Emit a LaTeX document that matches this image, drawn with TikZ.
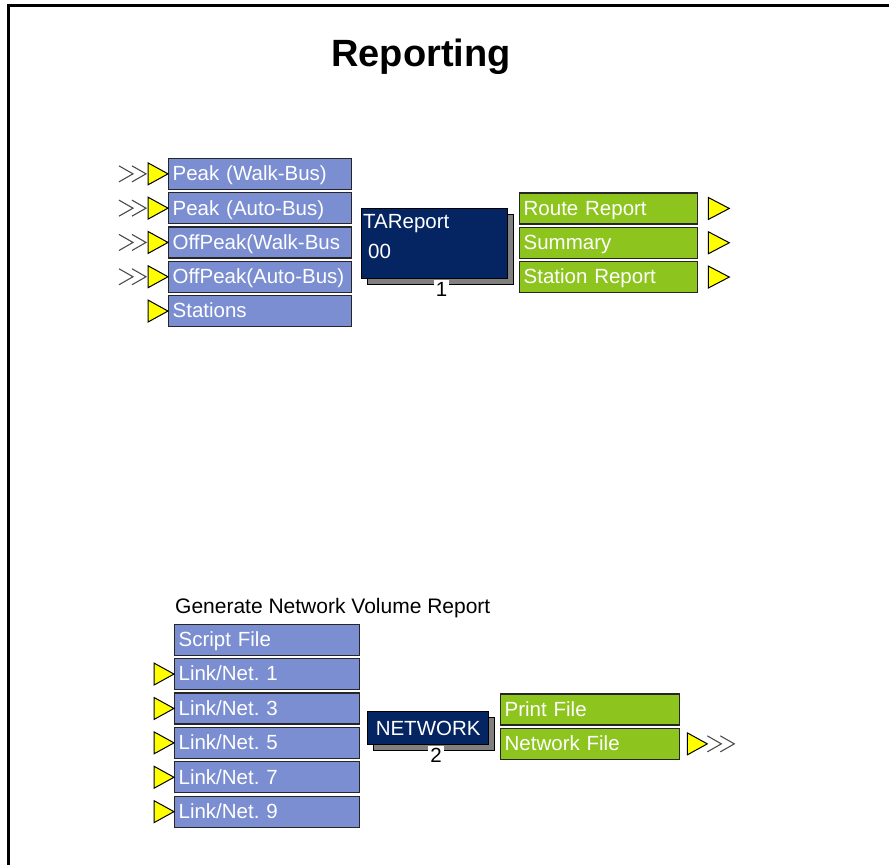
\documentclass[tikz,border=0pt]{standalone}
\usepackage{fontspec}
\setmainfont{Liberation Sans}
\usetikzlibrary{calc,shadows}
\frenchspacing

\definecolor{portblue}{RGB}{122,142,209}
\definecolor{portgreen}{RGB}{141,196,30}
\definecolor{modnavy}{RGB}{4,36,98}
\definecolor{shadegray}{RGB}{128,128,128}
\definecolor{portyellow}{RGB}{255,255,0}

\newcommand\portfont{\fontsize{20.5}{21}\selectfont}
\newcommand\capfont{\fontsize{21}{21}\selectfont}
\newcommand\titlefont{\bfseries\fontsize{38}{38}\selectfont}

\tikzset{
  port/.style={draw=black!85, line width=1.3pt, text=white, font=\portfont,
    anchor=north west, text width=#1, align=left, inner xsep=4pt,
    inner ysep=0pt, minimum height=31pt, text depth=1pt},
  inport/.style={port=#1, fill=portblue},
  outport/.style={port=#1, fill=portgreen},
  module/.style={draw=black, line width=1.3pt, fill=modnavy, text=white,
    font=\portfont, anchor=north west, inner sep=0pt,
    general shadow={shadow xshift=6pt, shadow yshift=-6pt,
      fill=shadegray, draw=black, line width=1pt}},
  modtext/.style={text=white, font=\portfont, inner sep=0pt, anchor=base west},
  num/.style={fill=white, text=black, font=\portfont, inner xsep=2pt,
    inner ysep=3pt, anchor=north},
  tri/.style={draw=black, line width=1pt, fill=portyellow, line join=miter},
  chev/.style={draw=black!70, line width=1.1pt},
}

\begin{document}
\begin{tikzpicture}[x=1pt, y=-1pt]
  \useasboundingbox (0,0) rectangle (889,865);
  \fill[white] (0,0) rectangle (889,865);

  % frame
  \draw[line width=3pt] (889,5) -- (8,5) -- (8,865);

  % title
  \node[font=\titlefont, anchor=base, inner sep=0pt] (title) at (421,66) {Reporting};

  % ---------- TAReport module ----------
  \node[inport=175pt] (pw) at (168,157.7) {\mbox{Peak (Walk-Bus)}};
  \node[inport=175pt] (pa) at (168,192.0) {\mbox{Peak (Auto-Bus)}};
  \node[inport=175pt] (ow) at (168,226.3) {\mbox{OffPeak(Walk-Bus}};
  \node[inport=175pt] (oa) at (168,260.6) {\mbox{OffPeak(Auto-Bus)}};
  \node[inport=175pt] (st) at (168,294.9) {\mbox{Stations}};

  \foreach \p in {pw,pa,ow,oa,st}
    \draw[tri] (\p.west) -- ++(-20,-11) -- ++(0,22) -- cycle;
  \foreach \p in {pw,pa,ow,oa} {
    \draw[chev] ($(\p.west)+(-49,-8)$) -- ++(14,8) -- ++(-14,8);
    \draw[chev] ($(\p.west)+(-36,-8)$) -- ++(14,8) -- ++(-14,8);
  }

  \node[module, minimum width=146pt, minimum height=70pt] (tar) at (361,208) {};
  \node[modtext] (tarname) at ($(tar.north west)+(2,20)$) {TAReport};
  \node[modtext] (tarid) at ($(tar.north west)+(7,50)$) {00};
  \node[num] (tarnum) at ($(tar.south)+(7,0)$) {1};

  \node[outport=170pt] (rr) at (519,192.3) {\mbox{Route Report}};
  \node[outport=170pt] (sm) at (519,226.6) {\mbox{Summary}};
  \node[outport=170pt] (sr) at (519,260.9) {\mbox{Station Report}};
  \foreach \p in {rr,sm,sr}
    \draw[tri] ($(\p.east)+(10,-11)$) -- ++(21,11) -- ++(-21,11) -- cycle;

  % ---------- NETWORK module ----------
  \node[font=\capfont, anchor=base west, inner sep=0pt] (cap) at (175,613)
    {Generate Network Volume Report};

  \node[inport=177pt] (sf) at (174,623.5) {\mbox{Script File}};
  \node[inport=177pt] (l1) at (174,657.9) {\mbox{Link/Net. 1}};
  \node[inport=177pt] (l3) at (174,692.3) {\mbox{Link/Net. 3}};
  \node[inport=177pt] (l5) at (174,726.7) {\mbox{Link/Net. 5}};
  \node[inport=177pt] (l7) at (174,761.1) {\mbox{Link/Net. 7}};
  \node[inport=177pt] (l9) at (174,795.5) {\mbox{Link/Net. 9}};
  \foreach \p in {l1,l3,l5,l7,l9}
    \draw[tri] (\p.west) -- ++(-20,-11) -- ++(0,22) -- cycle;

  \node[module, minimum width=121pt, minimum height=33pt] (net) at (367,711) {NETWORK};
  \node[num] (netnum) at ($(net.south)+(8,0)$) {2};

  \node[outport=171pt] (pf) at (500,693.3) {\mbox{Print File}};
  \node[outport=171pt] (nf) at (500,727.7) {\mbox{Network File}};
  \draw[tri] ($(nf.east)+(7,-11)$) -- ++(20,11) -- ++(-20,11) -- cycle;
  \draw[chev] ($(nf.east)+(27,-8)$) -- ++(14,8) -- ++(-14,8);
  \draw[chev] ($(nf.east)+(40,-8)$) -- ++(14,8) -- ++(-14,8);
\end{tikzpicture}
\end{document}
